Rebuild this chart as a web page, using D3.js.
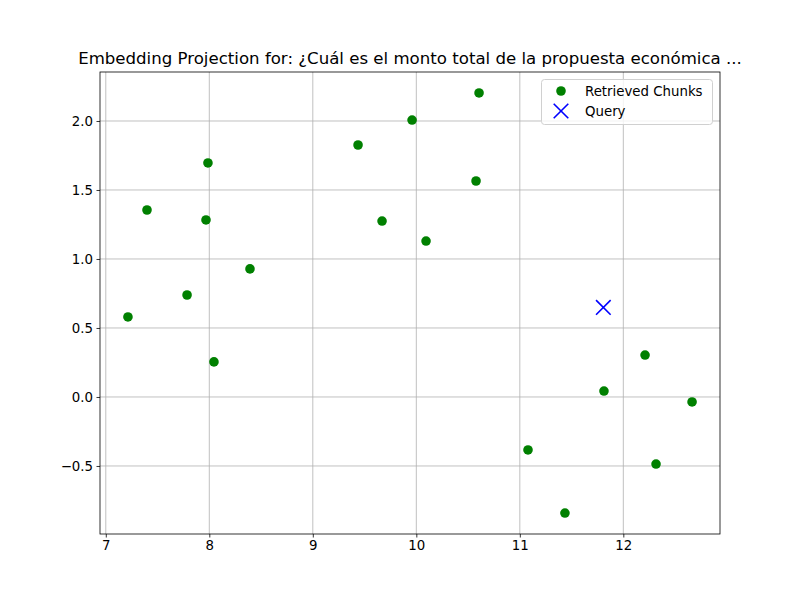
<!DOCTYPE html>
<html><head><meta charset="utf-8">
<script src="https://cdn.jsdelivr.net/npm/d3@7"></script>
<style>body{margin:0;background:#fff}svg{font-family:"DejaVu Sans",sans-serif}</style>
</head><body>
<svg id="c" width="800" height="600"></svg>
<script>
const chunkX = [7.214, 7.398, 7.785, 7.968, 7.987, 8.045, 8.393, 9.437, 9.669, 9.959, 10.094, 10.577, 10.606, 11.079, 11.436, 11.813, 12.21, 12.316, 12.664];
const chunkY = [0.58, 1.355, 0.739, 1.283, 1.696, 0.254, 0.928, 1.826, 1.275, 2.007, 1.130, 1.565, 2.203, -0.384, -0.841, 0.043, 0.304, -0.486, -0.036];
const queryX = [11.807];
const queryY = [0.649];
const xTicks = [7, 8, 9, 10, 11, 12];
const yTicks = [-0.5, 0.0, 0.5, 1.0, 1.5, 2.0];
const title = "Embedding Projection for: ¿Cuál es el monto total de la propuesta económica ...";
const legendLabels = ["Retrieved Chunks", "Query"];

const svg = d3.select("#c");
const L = 100, R = 720, T = 72, B = 534;
const x = d3.scaleLinear().domain([6.944, 12.934]).range([L, R]);
const y = d3.scaleLinear().domain([-0.993, 2.355]).range([B, T]);

// grid
svg.append("g").selectAll("line").data(xTicks).join("line")
  .attr("x1", d => x(d)).attr("x2", d => x(d)).attr("y1", T).attr("y2", B)
  .attr("stroke", "#b0b0b0").attr("stroke-width", 0.8);
svg.append("g").selectAll("line").data(yTicks).join("line")
  .attr("y1", d => y(d)).attr("y2", d => y(d)).attr("x1", L).attr("x2", R)
  .attr("stroke", "#b0b0b0").attr("stroke-width", 0.8);

// axes
const fmtY = d => (d < 0 ? "\u2212" : "") + Math.abs(d).toFixed(1);
const ax = svg.append("g").attr("transform", `translate(0,${B})`)
  .call(d3.axisBottom(x).tickValues(xTicks).tickSize(3.5).tickPadding(3.5).tickFormat(d3.format("d")));
const ay = svg.append("g").attr("transform", `translate(${L},0)`)
  .call(d3.axisLeft(y).tickValues(yTicks).tickSize(3.5).tickPadding(3.5).tickFormat(fmtY));
[ax, ay].forEach(g => {
  g.select(".domain").remove();
  g.selectAll("text").attr("font-size", "13.33px").attr("fill", "#000").attr("font-family", "DejaVu Sans");
  g.selectAll("line").attr("stroke", "#000").attr("stroke-width", 0.8);
});

// points
const pts = chunkX.map((v, i) => [v, chunkY[i]]);
svg.append("g").selectAll("circle").data(pts).join("circle")
  .attr("cx", d => x(d[0])).attr("cy", d => y(d[1])).attr("r", 4.8)
  .attr("fill", "green");
const q = queryX.map((v, i) => [v, queryY[i]]);
const s = 7.3;
svg.append("g").selectAll("path").data(q).join("path")
  .attr("d", d => `M${x(d[0])-s},${y(d[1])-s}L${x(d[0])+s},${y(d[1])+s}M${x(d[0])-s},${y(d[1])+s}L${x(d[0])+s},${y(d[1])-s}`)
  .attr("stroke", "blue").attr("stroke-width", 1.6).attr("fill", "none");

// frame
svg.append("rect").attr("x", L).attr("y", T).attr("width", R - L).attr("height", B - T)
  .attr("fill", "none").attr("stroke", "#000").attr("stroke-width", 0.8);

// title
svg.append("text").attr("x", (L + R) / 2).attr("y", T - 8).attr("text-anchor", "middle")
  .attr("font-size", "16.6px").text(title);

// legend
const lg = svg.append("g");
lg.append("rect").attr("x", 541.5).attr("y", 79.5).attr("width", 171).attr("height", 45).attr("rx", 3)
  .attr("fill", "#fff").attr("fill-opacity", 0.8).attr("stroke", "#d0d0d0");
lg.append("circle").attr("cx", 561).attr("cy", 91).attr("r", 4.8).attr("fill", "green");
const qx = 561, qy = 111;
lg.append("path").attr("d", `M${qx-s},${qy-s}L${qx+s},${qy+s}M${qx-s},${qy+s}L${qx+s},${qy-s}`)
  .attr("stroke", "blue").attr("stroke-width", 1.6);
lg.selectAll("text").data(legendLabels).join("text")
  .attr("x", 585).attr("y", (d, i) => 96 + i * 20).attr("font-size", "13.33px").text(d => d);
</script>
</body></html>
